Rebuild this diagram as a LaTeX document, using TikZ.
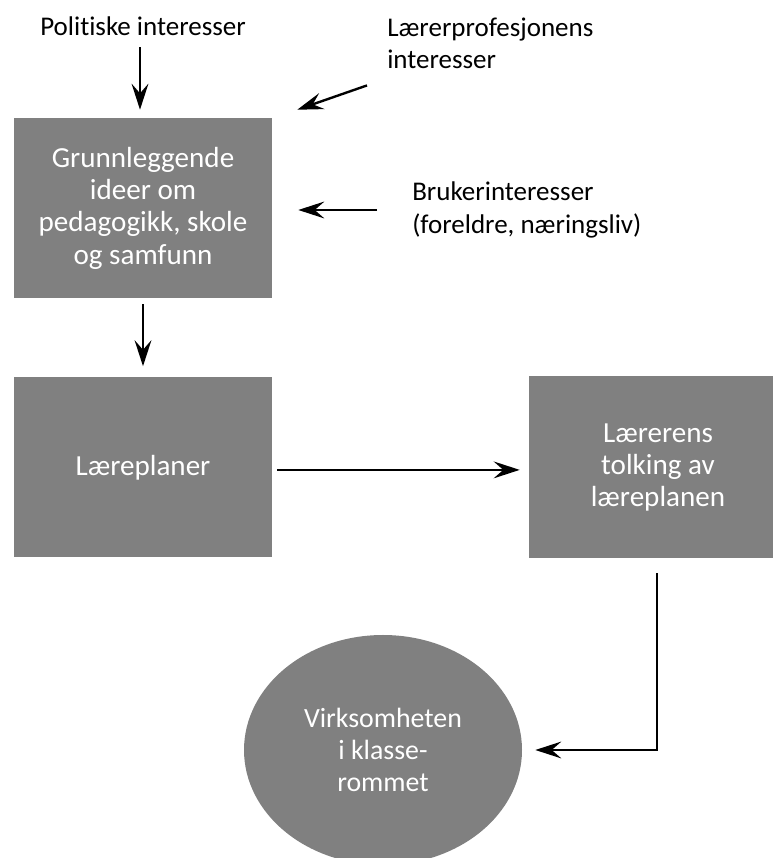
\documentclass[tikz,border=0pt]{standalone}
\usepackage{fontspec}
\setmainfont{Carlito}[Ligatures=NoCommon]
\usepackage{tikz}
\usetikzlibrary{shapes,arrows.meta}

\begin{document}
\begin{tikzpicture}[>={Stealth[length=0.65cm,width=0.42cm,inset=0.24cm]},
    boks/.style={fill=black!50, text=white, minimum width=6.45cm, minimum height=4.5cm, align=center, inner sep=0pt, font=\fontsize{20.7}{23}\selectfont},
    etikett/.style={inner sep=0pt, align=left},
    pil/.style={->, line width=1.7pt},
    font=\fontsize{19.2}{23}\selectfont]
        \clip (0,0) rectangle (19.325,21.45);

        % Boxes
        \node[boks] (Ideer) at (3.575, 16.25) {Grunnleggende\\ideer om\\pedagogikk, skole\\og samfunn};
        \node[boks] (Laereplan) at (3.575, 9.7625) {Læreplaner};
        \node[boks, minimum height=4.55cm] (Tolking) at (16.45, 9.7625) {Lærerens\\tolking av\\læreplanen};
        \node[ellipse, fill=black!50, text=white, minimum width=6.95cm, minimum height=5.75cm, align=center, inner sep=0pt, font=\fontsize{19.8}{23}\selectfont] (Klasserom) at (9.575, 2.7) {Virksomheten\\i klasse-\\rommet};

        % Interests
        \node[etikett] (Pol) at (3.575, 20.79) {Politiske interesser};
        \node[etikett, anchor=west] (Prof) at (9.675, 20.36) {Lærerprofesjonens\\interesser};
        \node[etikett, anchor=west] (Bruker) at (10.3, 16.2) {Brukerinteresser\\(foreldre, næringsliv)};

        % Arrows
        \draw[pil, shorten <=0.275cm, shorten >=0.2cm] ([xshift=-0.075cm]Pol.south) -- ([xshift=-0.075cm]Ideer.north);
        \draw[pil] ([shift={(-0.5cm,-0.4cm)}]Prof.south west) -- ([shift={(0.625cm,0.2cm)}]Ideer.north east);
        \draw[pil, shorten <=0.875cm, shorten >=0.65cm] (Bruker.west) -- (Ideer.east |- Bruker.west);
        \draw[pil, shorten <=0.15cm, shorten >=0.275cm] (Ideer) -- (Laereplan);
        \draw[pil, shorten <=0.125cm, shorten >=0.225cm] ([yshift=-0.06cm]Laereplan.east) -- ([yshift=-0.06cm]Tolking.west);
        \draw[pil, shorten <=0.36cm, shorten >=0.325cm] ([xshift=-0.025cm]Tolking.south) |- (Klasserom.east);
    \end{tikzpicture}
\end{document}
